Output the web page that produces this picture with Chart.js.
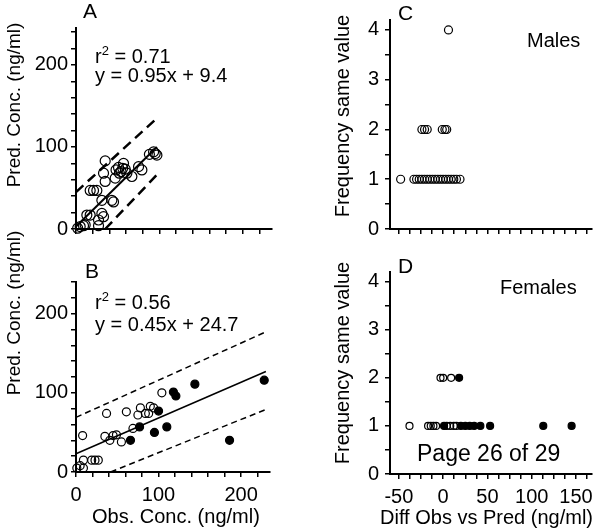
<!DOCTYPE html>
<html>
<head>
<meta charset="utf-8">
<script src="https://cdn.jsdelivr.net/npm/chart.js@4"></script>
<style>
body { margin: 0; background: #fff; }
#wrap { position: relative; width: 600px; height: 531px; overflow: hidden; font-family: "Liberation Sans", Arial, sans-serif; color: #000; }
canvas { position: absolute; }
.t { position: absolute; font-size: 20px; line-height: 1; white-space: nowrap; }
.v { position: absolute; font-size: 19px; line-height: 1; white-space: nowrap; transform: translate(-50%, -50%) rotate(-90deg); }
sup { font-size: 13px; vertical-align: 8px; line-height: 0; }
</style>
</head>
<body>
<div id="wrap">
  <canvas id="chartA" width="290" height="250" style="left:0;top:0;width:290px;height:250px"></canvas>
  <canvas id="chartB" width="290" height="281" style="left:0;top:250px;width:290px;height:281px"></canvas>
  <canvas id="chartC" width="300" height="250" style="left:300px;top:0;width:300px;height:250px"></canvas>
  <canvas id="chartD" width="300" height="281" style="left:300px;top:250px;width:300px;height:281px"></canvas>

  <div class="t" style="left:83px;top:0;font-size:21px">A</div>
  <div class="t" style="left:95px;top:46px">r<sup>2</sup> = 0.71</div>
  <div class="t" style="left:95px;top:65px">y = 0.95x + 9.4</div>
  <div class="t" style="left:85px;top:260px;font-size:21px">B</div>
  <div class="t" style="left:95px;top:292px">r<sup>2</sup> = 0.56</div>
  <div class="t" style="left:95px;top:314px">y = 0.45x + 24.7</div>
  <div class="t" style="left:398px;top:2px;font-size:21px">C</div>
  <div class="t" style="left:527px;top:30px">Males</div>
  <div class="t" style="left:398px;top:255px;font-size:21px">D</div>
  <div class="t" style="left:500px;top:277px">Females</div>
  <div class="t" style="left:417px;top:442px;font-size:23px">Page 26 of 29</div>
  <div class="t" style="left:92px;top:506px">Obs. Conc. (ng/ml)</div>
  <div class="t" style="left:380px;top:507px">Diff Obs vs Pred (ng/ml)</div>
  <div class="v" style="left:13px;top:105px">Pred. Conc. (ng/ml)</div>
  <div class="v" style="left:13px;top:313px">Pred. Conc. (ng/ml)</div>
  <div class="v" style="left:342px;top:116px;font-size:20px">Frequency same value</div>
  <div class="v" style="left:342px;top:363px;font-size:20px">Frequency same value</div>
</div>
<script>
// panel A - males, observed vs predicted
const maleObs  = [2, 5, 9, 11, 13, 17, 27, 27, 31, 33, 31, 43, 45, 17, 21, 25, 35, 47, 33, 35, 57, 48, 51, 54, 56, 59, 52, 61, 67, 79, 75, 88, 93, 97, 95]
const malePred = [1, 3, 4, 5, 17, 17, 4, 11, 19, 15, 35, 35, 33, 47, 47, 47, 58, 62, 68, 83, 80, 72, 75, 70, 74, 73, 68, 68, 64, 72, 76, 91, 94, 90, 92]
const aFitX = [0, 97],  aFitY = [3, 100]
const aUpX  = [0, 97],  aUpY  = [45, 135]
const aLoX  = [35, 97], aLoY  = [0, 66]

// panel B - females
const femOpenObs  = [1, 9, 5, 9, 19, 23, 27, 8, 35, 41, 45, 49, 55, 37, 61, 69, 75, 78, 84, 88, 90, 94, 104]
const femOpenPred = [5, 5, 8, 15, 15, 15, 15, 46, 45, 40, 46, 47, 38, 74, 76, 55, 72, 81, 74, 74, 83, 81, 100]
const femFilledObs  = [66, 77, 95, 100, 110, 118, 121, 144, 186, 228]
const femFilledPred = [40, 57, 50, 77, 57, 101, 96, 111, 40, 116]
const bFitX = [0, 230],  bFitY = [23, 127]
const bUpX  = [0, 230],  bUpY  = [69, 177]
const bLoX  = [42, 230], bLoY  = [0, 79]

// panel C - males, difference vs frequency
const cOpenDiff = [-48, -33, -30, -27, -24, -21, -18, -15, -12, -9, -6, -3, 0, 3, 6, 9, 12, 15, 19, -24, -21, -18, -1, 2, 4, 6]
const cOpenFreq = [1, 1, 1, 1, 1, 1, 1, 1, 1, 1, 1, 1, 1, 1, 1, 1, 1, 1, 1, 2, 2, 2, 2, 2, 2, 4]

// panel D - females
const dOpenDiff = [-38, -17, -14, -11, -8, 4, 8, 12, 15, -3, 0, 9]
const dOpenFreq = [1, 1, 1, 1, 1, 1, 1, 1, 1, 2, 2, 2]
const dFilledDiff = [1, 20, 25, 30, 35, 42, 53, 113, 145, 18]
const dFilledFreq = [1, 1, 1, 1, 1, 1, 1, 1, 1, 2]

// ticks
const concMarksY = [0, 20, 40, 60, 80, 100, 120, 140, 160, 180, 200, 220, 240]
const concMarksX = [0, 20, 40, 60, 80, 100, 120, 140, 160, 180, 200, 220]
const concLabels = [0, 100, 200]
const freqMarks = [0, 0.5, 1, 1.5, 2, 2.5, 3, 3.5, 4]
const freqLabels = [0, 1, 2, 3, 4]
const diffMarks = [-50, -37.5, -25, -12.5, 0, 12.5, 25, 37.5, 50, 62.5, 75, 87.5, 100, 112.5, 125, 137.5, 150, 162.5]
const diffLabels = [-50, 0, 50, 100, 150]

Chart.defaults.font.family = '"Liberation Sans", Arial, sans-serif'
Chart.defaults.color = '#000'

function pts (xs, ys) {
    return xs.map((x, i) => ({ x: x, y: ys[i] }))
}

function makeScale (min, max, marks, labels, size, pad) {
    return {
        type: 'linear',
        min: min,
        max: max,
        afterBuildTicks: (s) => { s.ticks = marks.map((v) => ({ value: v })) },
        afterFit: (s) => {
            if (s.isHorizontal()) s.height = size
            else s.width = size
        },
        ticks: {
            autoSkip: false,
            maxRotation: 0,
            padding: pad,
            color: '#000',
            font: { size: 20 },
            callback: (v) => labels.includes(v) ? String(v) : ''
        },
        grid: { drawOnChartArea: false, tickLength: 5, color: '#000', lineWidth: 1.5 },
        border: { color: '#000', width: 2 }
    }
}

function dots (data, r, filled) {
    return {
        data: data,
        pointRadius: r,
        pointBorderWidth: 1.2,
        pointBorderColor: '#000',
        pointBackgroundColor: filled ? '#000' : 'rgba(0,0,0,0)',
        showLine: false,
        clip: false
    }
}

function line (data, width, dash) {
    return {
        data: data,
        showLine: true,
        pointRadius: 0,
        borderColor: '#000',
        borderWidth: width,
        borderDash: dash,
        clip: false
    }
}

function criarPainel (id, datasets, xScale, yScale, padding) {
    new Chart(document.getElementById(id), {
        type: 'scatter',
        data: { datasets: datasets },
        options: {
            responsive: false,
            animation: false,
            events: [],
            layout: { padding: padding },
            scales: { x: xScale, y: yScale },
            plugins: { legend: { display: false }, tooltip: { enabled: false } }
        }
    })
}

criarPainel('chartA', [
    line(pts(aUpX, aUpY), 2.5, [10, 6]),
    line(pts(aLoX, aLoY), 2.5, [10, 6]),
    line(pts(aFitX, aFitY), 2, []),
    dots(pts(maleObs, malePred), 5, false)
], makeScale(0, 235, concMarksX, [], 21, 3), makeScale(0, 245, concMarksY, concLabels, 76, 3),
{ left: 0, top: 28, right: 18, bottom: 0 })

criarPainel('chartB', [
    line(pts(bUpX, bUpY), 1.5, [6, 4]),
    line(pts(bLoX, bLoY), 1.5, [6, 4]),
    line(pts(bFitX, bFitY), 1.5, []),
    dots(pts(femOpenObs, femOpenPred), 4, false),
    dots(pts(femFilledObs, femFilledPred), 4, true)
], makeScale(0, 235, concMarksX, concLabels, 59, 6), makeScale(0, 240, concMarksY, concLabels, 76, 3),
{ left: 0, top: 32, right: 20, bottom: 0 })

criarPainel('chartC', [
    dots(pts(cOpenDiff, cOpenFreq), 4, false)
], makeScale(-60, 168, diffMarks, [], 21, 3), makeScale(0, 4.2, freqMarks, freqLabels, 90, 6),
{ left: 0, top: 20, right: 8, bottom: 0 })

criarPainel('chartD', [
    dots(pts(dOpenDiff, dOpenFreq), 3.5, false),
    dots(pts(dFilledDiff, dFilledFreq), 3.5, true)
], makeScale(-60, 168, diffMarks, diffLabels, 57, 6), makeScale(0, 4.2, freqMarks, freqLabels, 90, 6),
{ left: 0, top: 22, right: 8, bottom: 0 })
</script>
</body>
</html>
